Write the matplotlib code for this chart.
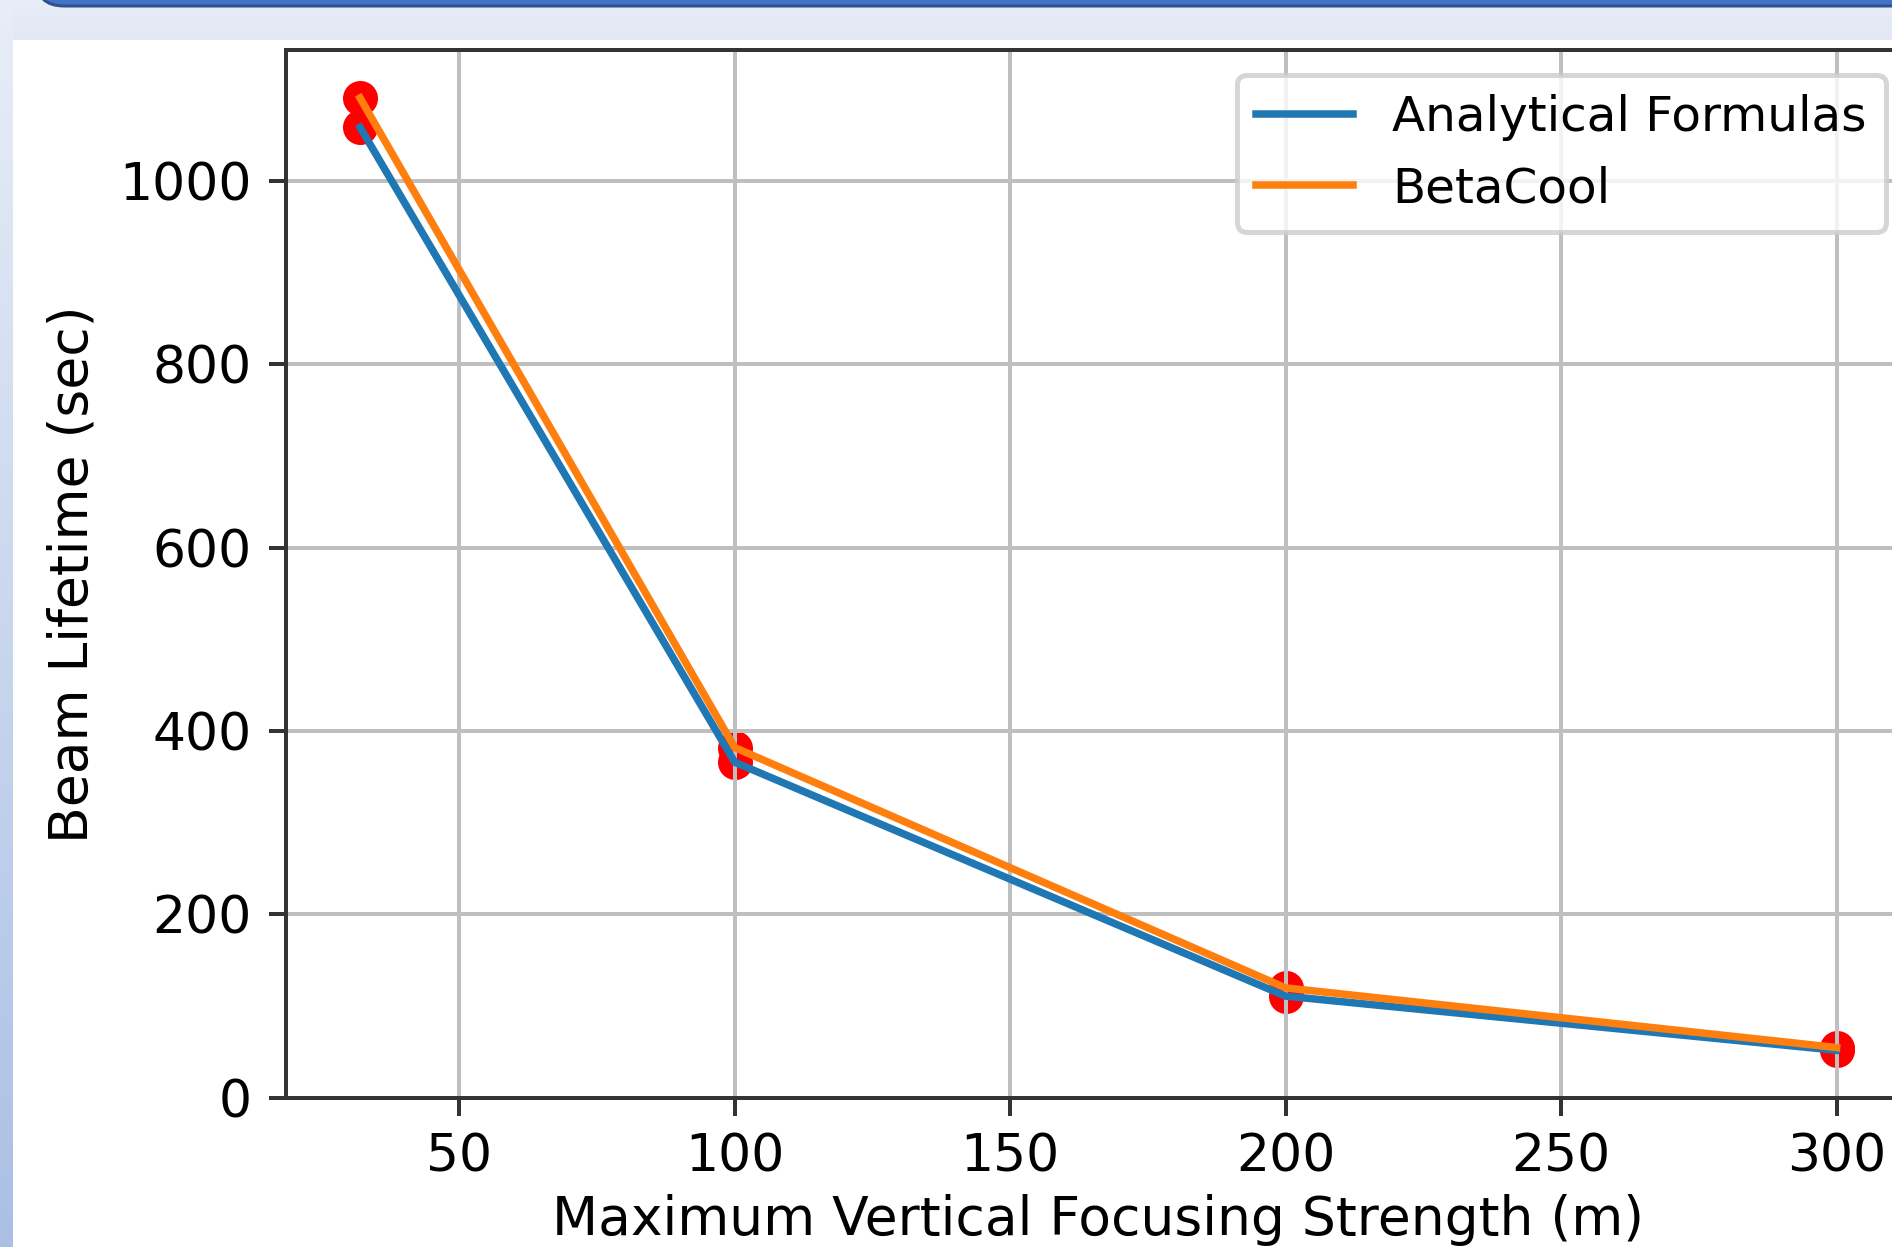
import matplotlib
matplotlib.use("Agg")
import matplotlib.pyplot as plt
import numpy as np
from matplotlib.patches import Rectangle, FancyBboxPatch

# beam lifetime vs max vertical focusing strength
beta_max = [32, 100, 200, 300]
analytical = [1058, 366, 111, 52]
betacool = [1090, 382, 120, 55]

W, H = 1892, 1247
fig = plt.figure(figsize=(W / 360, H / 360), dpi=360)

# slide frame behind the chart
bg = fig.add_axes([0, 0, 1, 1], zorder=-5)
g = np.linspace(0, 1, 256)[:, None, None]
top_c = np.array([0.91, 0.93, 0.97])
bot_c = np.array([0.67, 0.75, 0.90])
bg.imshow(top_c + (bot_c - top_c) * g, extent=(0, 13, H, 0), aspect='auto')
band = np.array([0.91, 0.93, 0.97]) + (np.array([0.885, 0.91, 0.96]) - np.array([0.91, 0.93, 0.97])) * g
bg.imshow(band, extent=(13, W, 40, 0), aspect='auto')
bg.add_patch(Rectangle((13, 40), W, H, fc='white', ec='none'))
bg.add_patch(FancyBboxPatch((36, -40), W + 60, 46, boxstyle='round,pad=0,rounding_size=28',
                            fc='#4472c4', ec='#2f4f8f', lw=0.6))
bg.set_xlim(0, W)
bg.set_ylim(H, 0)
bg.axis('off')

ax = fig.add_axes([0.1513, 0.1195, 0.8584, 0.8401])
ax.scatter(beta_max, analytical, c='r')
ax.scatter(beta_max, betacool, c='r')
ax.plot(beta_max, analytical, label='Analytical Formulas')
ax.plot(beta_max, betacool, label='BetaCool')
ax.set_ylim(bottom=0)
ax.grid(True, color='#bfbfbf')
ax.set_xlabel('Maximum Vertical Focusing Strength (m)', fontsize=10.7, labelpad=2.2)
ax.set_ylabel('Beam Lifetime (sec)', fontsize=10.7)
for s in ax.spines.values():
    s.set_color('#333333')
ax.tick_params(color='#333333', labelsize=10.4)
ax.legend(loc='upper right', fontsize=9.7)

fig.savefig('out.png', dpi=360)
